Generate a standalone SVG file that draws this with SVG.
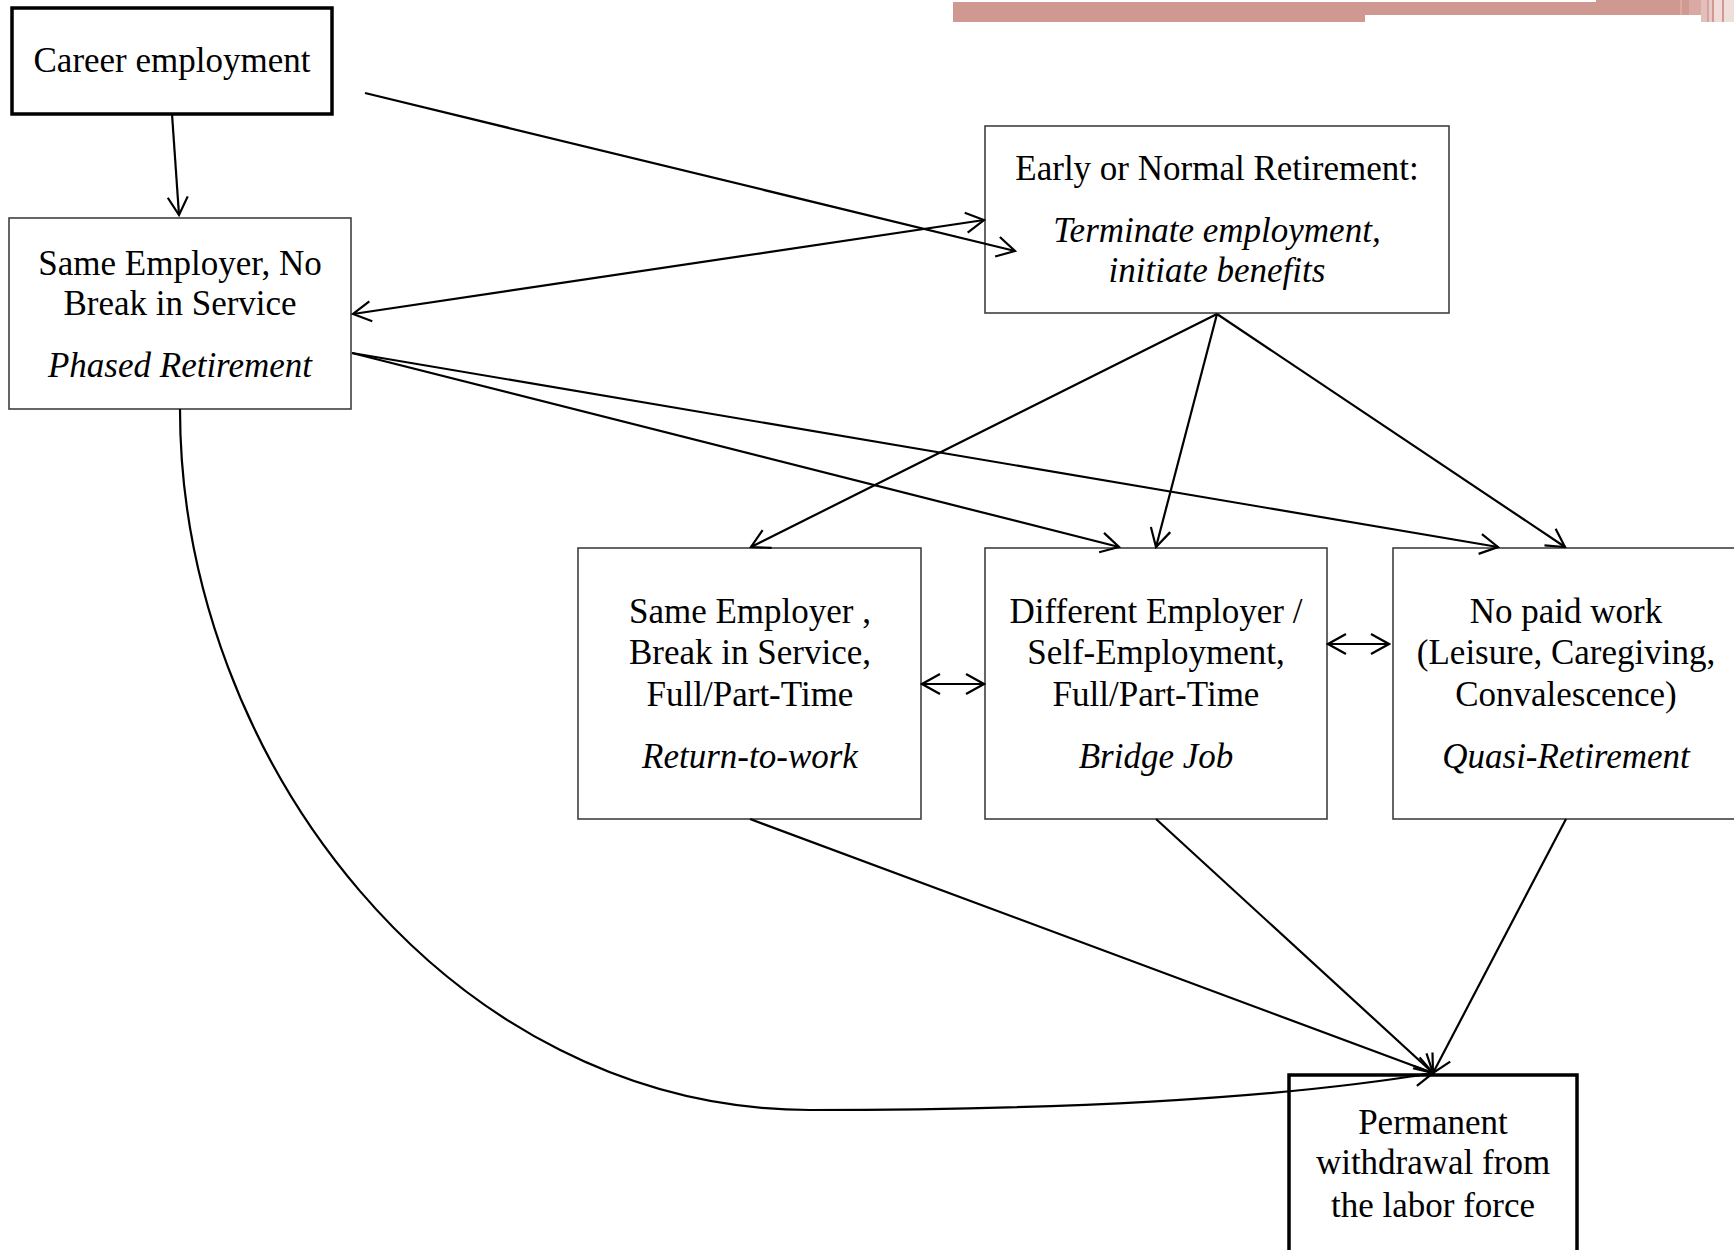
<svg xmlns="http://www.w3.org/2000/svg" width="1734" height="1250" viewBox="0 0 1734 1250">
<style>
.box{fill:#fff;stroke:#404040;stroke-width:1.6}
.thick{fill:#fff;stroke:#000;stroke-width:3.5}
.t{font-family:"Liberation Serif","Times New Roman",serif;font-size:35px;fill:#000;text-anchor:middle}
.i{font-style:italic}
.c{fill:none;stroke:#000;stroke-width:2.2;marker-end:url(#ah)}
.d{marker-start:url(#ah)}
</style>
<defs>
<marker id="ah" markerUnits="userSpaceOnUse" markerWidth="22" markerHeight="24" viewBox="0 0 22 24" refX="20" refY="12" orient="auto-start-reverse">
<path d="M2,2 L20,12 L2,22" fill="none" stroke="#000" stroke-width="2.2"/>
</marker>
</defs>
<g id="banner">
<rect x="953" y="2" width="412" height="20" fill="#cf9890"/>
<rect x="1365" y="2" width="315" height="13" fill="#cf9890"/>
<rect x="1596" y="0" width="84" height="2" fill="#cf9890"/>
<rect x="1680" y="0" width="2" height="15" fill="#dcaaa3"/>
<rect x="1682" y="0" width="7" height="15" fill="#d09a93"/>
<rect x="1689" y="0" width="12" height="15" fill="#d9aaa3"/>
<rect x="1701" y="0" width="6" height="22" fill="#e3bfbb"/>
<rect x="1707" y="0" width="2" height="22" fill="#d6a39c"/>
<rect x="1709" y="0" width="3" height="22" fill="#e8cbc7"/>
<rect x="1712" y="0" width="2" height="22" fill="#d09a93"/>
<rect x="1714" y="0" width="8" height="22" fill="#f0dbd8"/>
<rect x="1722" y="0" width="2" height="22" fill="#d09a93"/>
<rect x="1724" y="0" width="10" height="22" fill="#f0dedb"/>
</g>
<g id="career">
<rect class="thick" x="12" y="8" width="320" height="106"/>
<text class="t" x="172" y="72">Career employment</text>
</g>
<g id="phased">
<rect class="box" x="9" y="218" width="342" height="191"/>
<text class="t" x="180" y="275">Same Employer, No</text>
<text class="t" x="180" y="315">Break in Service</text>
<text class="t i" x="180" y="377">Phased Retirement</text>
</g>
<g id="early">
<rect class="box" x="985" y="126" width="464" height="187"/>
<text class="t" x="1217" y="180">Early or Normal Retirement:</text>
<text class="t i" x="1217" y="242">Terminate employment,</text>
<text class="t i" x="1217" y="282">initiate benefits</text>
</g>
<g id="return">
<rect class="box" x="578" y="548" width="343" height="271"/>
<text class="t" x="750" y="623">Same Employer ,</text>
<text class="t" x="750" y="664">Break in Service,</text>
<text class="t" x="750" y="706">Full/Part-Time</text>
<text class="t i" x="750" y="768">Return-to-work</text>
</g>
<g id="bridge">
<rect class="box" x="985" y="548" width="342" height="271"/>
<text class="t" x="1156" y="623">Different Employer /</text>
<text class="t" x="1156" y="664">Self-Employment,</text>
<text class="t" x="1156" y="706">Full/Part-Time</text>
<text class="t i" x="1156" y="768">Bridge Job</text>
</g>
<g id="quasi">
<rect class="box" x="1393" y="548" width="350" height="271"/>
<text class="t" x="1566" y="623">No paid work</text>
<text class="t" x="1566" y="664">(Leisure, Caregiving,</text>
<text class="t" x="1566" y="706">Convalescence)</text>
<text class="t i" x="1566" y="768">Quasi-Retirement</text>
</g>
<g id="permanent">
<rect class="thick" x="1289" y="1075" width="288" height="185"/>
<text class="t" x="1433" y="1134">Permanent</text>
<text class="t" x="1433" y="1174">withdrawal from</text>
<text class="t" x="1433" y="1217">the labor force</text>
</g>
<g id="connectors">
<line class="c" x1="172" y1="114" x2="179" y2="215"/>
<line class="c" x1="365" y1="93" x2="1015" y2="251"/>
<line class="c d" x1="353" y1="314" x2="984" y2="220"/>
<line class="c" x1="352" y1="353" x2="1119" y2="547"/>
<line class="c" x1="352" y1="353" x2="1498" y2="547"/>
<line class="c" x1="1217" y1="314" x2="751" y2="547"/>
<line class="c" x1="1217" y1="314" x2="1156" y2="547"/>
<line class="c" x1="1217" y1="314" x2="1565" y2="547"/>
<line class="c d" x1="922" y1="684" x2="984" y2="684"/>
<line class="c d" x1="1328" y1="644" x2="1389" y2="644"/>
<line class="c" x1="750" y1="819" x2="1433" y2="1073"/>
<line class="c" x1="1156" y1="819" x2="1433" y2="1073"/>
<line class="c" x1="1566" y1="819" x2="1433" y2="1073"/>
<path class="c" d="M180,409 C180,760 450,1110 810,1110 C1100,1110 1300,1095 1433,1073"/>
</g>
</svg>
